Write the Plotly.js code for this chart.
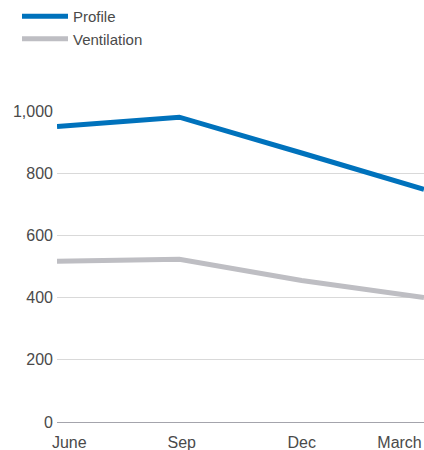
<!DOCTYPE html>
<html><head><meta charset="utf-8">
<script src="https://cdn.plot.ly/plotly-3.0.1.min.js"></script>
<style>html,body{margin:0;padding:0;background:#fff;}#chart{width:424px;height:450px;}</style>
</head><body><div id="chart"></div>
<script>
const months = ["June", "Sep", "Dec", "March"];
const profile = [950, 980, 865, 748];
const ventilation = [517, 523, 455, 400];
const yTicks = [0, 200, 400, 600, 800, 1000];
const yTickText = ["0", "200", "400", "600", "800", "1,000"];

const idx = months.map((m, i) => i);
const traces = [
  {x: idx, y: profile, name: "Profile", mode: "lines", line: {color: "#0072BC", width: 5}},
  {x: idx, y: ventilation, name: "Ventilation", mode: "lines", line: {color: "#BEBEC3", width: 5}}
];
const layout = {
  width: 424, height: 450,
  margin: {l: 57, r: 0, t: 110, b: 28},
  paper_bgcolor: "#fff", plot_bgcolor: "#fff",
  font: {family: "Liberation Sans, Arial, sans-serif", size: 16, color: "#4a4a4a"},
  showlegend: true,
  legend: {x: -0.109, xanchor: "left", y: 1.357, yanchor: "top", orientation: "v",
           font: {size: 15, color: "#4a4a4a"}, tracegroupgap: 0, itemwidth: 46},
  xaxis: {range: [0, 3], tickmode: "array", tickvals: [0.1, 1.02, 2.0, 2.8], ticktext: months,
          showgrid: false, zeroline: false, showline: false, ticks: "", fixedrange: true,
          ticklabelstandoff: 9, ticklabeloverflow: "allow", tickfont: {size: 16}},
  yaxis: {range: [0, 1000], tickmode: "array", tickvals: yTicks, ticktext: yTickText,
          showgrid: true, gridcolor: "#d9d9d9", gridwidth: 1, zeroline: true, zerolinecolor: "#a4a4ac",
          zerolinewidth: 1, showline: false, ticks: "", ticklabelstandoff: 3, fixedrange: true,
          tickfont: {size: 16}}
};
Plotly.newPlot("chart", traces, layout, {displayModeBar: false, staticPlot: true});
</script></body></html>
